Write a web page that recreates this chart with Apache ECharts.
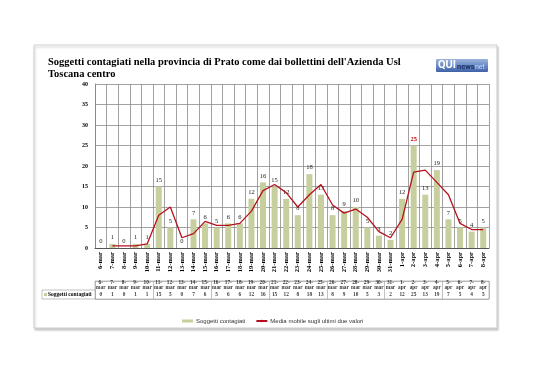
<!DOCTYPE html>
<html><head><meta charset="utf-8">
<script src="https://cdn.jsdelivr.net/npm/echarts@6/dist/echarts.min.js"></script>
<style>html,body{margin:0;padding:0;background:#fff}#c{width:538px;height:380px}</style>
</head><body><div id="c"></div>
<script>
var categories = ['6-mar','7-mar','8-mar','9-mar','10-mar','11-mar','12-mar','13-mar','14-mar','15-mar','16-mar','17-mar','18-mar','19-mar','20-mar','21-mar','22-mar','23-mar','24-mar','25-mar','26-mar','27-mar','28-mar','29-mar','30-mar','31-mar','1-apr','2-apr','3-apr','4-apr','5-apr','6-apr','7-apr','8-apr'];
var contagiati = [0,1,0,1,1,15,5,0,7,6,5,6,6,12,16,15,12,8,18,13,8,9,10,5,3,2,12,25,13,19,7,5,4,5];
var mediaMobile = [null,0.5,0.5,0.5,1,8,10,2.5,3.5,6.5,5.5,5.5,6,9,14,15.5,13.5,10,13,15.5,10.5,8.5,9.5,7.5,4,2.5,7,18.5,19,16,13,6,4.5,4.5];
var yTicks = [0,5,10,15,20,25,30,35,40];

var serif = 'Liberation Serif';
var chart = echarts.init(document.getElementById('c'));

var barData = contagiati.map(function(v){
  if (v === 25) return {value:v, label:{color:'#c00000', fontWeight:'bold'}};
  return v;
});
var tableData = [];
categories.forEach(function(c,i){
  var p = c.split('-');
  tableData.push({value:[c,'h'], label:{formatter: p[0]+'-\n'+p[1]}});
  tableData.push({value:[c,'v'], label:{formatter: String(contagiati[i])}});
});

chart.setOption({
  animation:false,
  backgroundColor:'#fff',
  graphic:[
    {type:'rect', shape:{x:34,y:45,width:463,height:283}, style:{fill:'#fff',stroke:'#cfcfcf',lineWidth:1,shadowBlur:2,shadowOffsetY:2,shadowOffsetX:1,shadowColor:'rgba(0,0,0,0.2)'}, z:-10},
    {type:'text', left:48, top:56, style:{text:"Soggetti contagiati nella provincia di Prato come dai bollettini dell'Azienda Usl\nToscana centro", font:'bold 10.5px '+serif, fill:'#000', lineHeight:12}},
    {type:'group', left:436, top:59, children:[
      {type:'rect', shape:{x:0,y:0,width:52,height:13,r:1}, style:{fill:new echarts.graphic.LinearGradient(0,0,0,1,[{offset:0,color:'#9db4dc'},{offset:0.5,color:'#6a8cc6'},{offset:1,color:'#3f62a6'}])}},
      {type:'text', x:2, y:1, style:{text:'QUI', font:'bold 11px Roboto', fill:'#fff'}},
      {type:'text', x:21, y:4, style:{text:'news', font:'bold 7.5px Roboto', fill:'#1c2f66'}},
      {type:'text', x:39, y:4.5, style:{text:'net', font:'7px Roboto', fill:'#c8d8f0'}}
    ]},
    {type:'rect', shape:{x:42,y:290,width:53,height:9}, style:{fill:'#fff',stroke:'#999',lineWidth:0.6}},
    {type:'rect', shape:{x:44,y:293,width:3,height:3}, style:{fill:'#c8cf9f'}},
    {type:'text', x:48, y:291.5, style:{text:'Soggetti contagiati', font:'bold 5.5px '+serif, fill:'#000'}}
  ],
  legend:{
    left:177, top:313, itemWidth:11, itemHeight:3, itemGap:10,
    textStyle:{fontSize:6, fontFamily:'Liberation Sans', color:'#333', padding:[0,0,0,-2]},
    data:[{name:'Soggetti contagiati', icon:'rect'}, {name:'Media mobile sugli ultimi due valori'}]
  },
  grid:[
    {left:95, right:49, top:84, bottom:132},
    {left:95, right:49, top:281, height:18, show:true, borderColor:'#999', borderWidth:0.6}
  ],
  xAxis:[
    {type:'category', data:categories, gridIndex:0, boundaryGap:true,
     axisLine:{lineStyle:{color:'#555',width:1}}, axisTick:{show:false},
     splitLine:{show:true, lineStyle:{color:'#8a8a8a', width:0.8}},
     axisLabel:{rotate:90, interval:0, margin:4, fontFamily:serif, fontWeight:'bold', fontSize:6.5, color:'#000'}},
    {type:'category', data:categories, gridIndex:1, boundaryGap:true,
     axisLine:{show:false}, axisTick:{show:false}, axisLabel:{show:false},
     splitLine:{show:true, lineStyle:{color:'#999', width:0.6}}}
  ],
  yAxis:[
    {type:'value', min:0, max:40, interval:5, gridIndex:0,
     axisLine:{show:true, lineStyle:{color:'#8a8a8a'}}, axisTick:{show:false},
     splitLine:{lineStyle:{color:'#8a8a8a', width:0.8}},
     axisLabel:{margin:7, fontFamily:serif, fontWeight:'bold', fontSize:6, color:'#000', formatter:function(v){return yTicks.indexOf(v)>=0?String(v):'';}}},
    {type:'category', data:['v','h'], gridIndex:1, boundaryGap:true,
     axisLine:{show:false}, axisTick:{show:false}, axisLabel:{show:false},
     splitLine:{show:true, lineStyle:{color:'#999', width:0.6}}}
  ],
  series:[
    {name:'Soggetti contagiati', type:'bar', data:barData, barWidth:'52%', xAxisIndex:0, yAxisIndex:0,
     itemStyle:{color:'#c8cf9f'},
     label:{show:true, position:'top', distance:3, fontFamily:serif, fontSize:6.5, color:'#222'}},
    {name:'Media mobile sugli ultimi due valori', type:'line', data:mediaMobile, xAxisIndex:0, yAxisIndex:0,
     symbol:'none', lineStyle:{color:'#b3121c', width:1.3}, itemStyle:{color:'#b3121c'}, z:5},
    {type:'scatter', xAxisIndex:1, yAxisIndex:1, data:tableData, symbolSize:0, silent:true,
     label:{show:true, position:'inside', fontFamily:serif, fontWeight:'bold', fontSize:5.3, lineHeight:5, color:'#000'}}
  ]
});
</script></body></html>
